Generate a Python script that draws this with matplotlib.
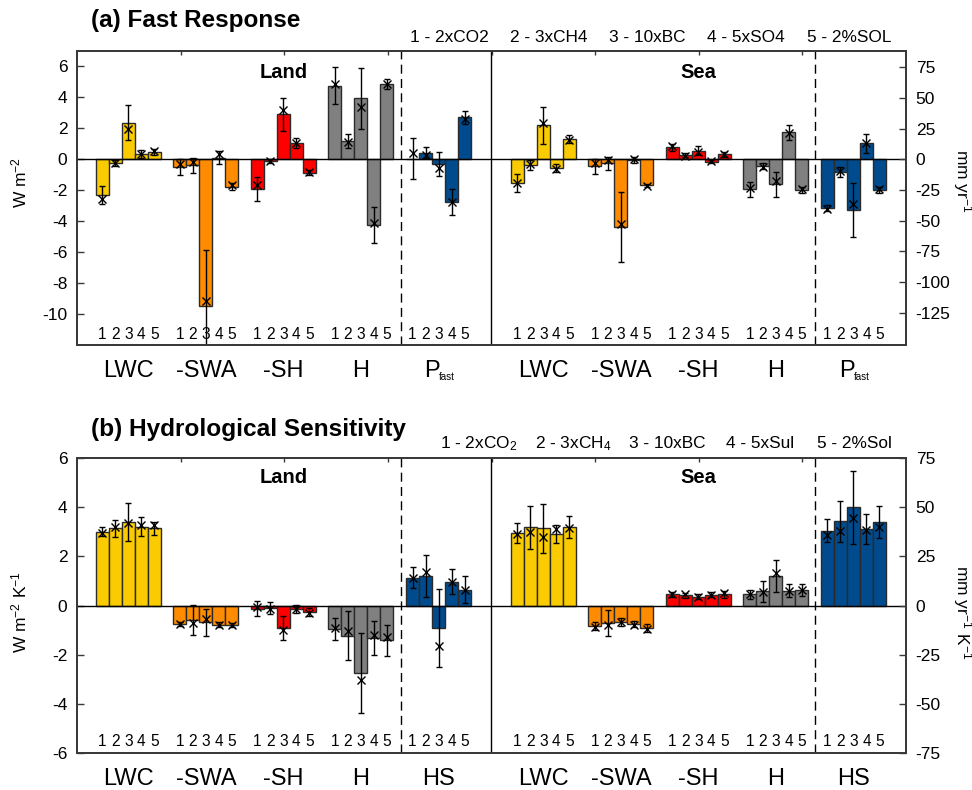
import matplotlib
matplotlib.use('Agg')
import matplotlib.pyplot as plt
import matplotlib.transforms as mtrans

plt.rcParams['font.family'] = ['Liberation Sans', 'DejaVu Sans']
plt.rcParams['mathtext.fontset'] = 'custom'
plt.rcParams['mathtext.rm'] = 'Liberation Sans'
plt.rcParams['mathtext.it'] = 'Liberation Sans:italic'
plt.rcParams['mathtext.bf'] = 'Liberation Sans:bold'
plt.rcParams['axes.unicode_minus'] = False

# ---------------- data ----------------
components_a = ['LWC', '-SWA', '-SH', 'H', 'Pfast']
components_b = ['LWC', '-SWA', '-SH', 'H', 'HS']
experiments_a = ['1 - 2xCO2', '2 - 3xCH4', '3 - 10xBC', '4 - 5xSO4', '5 - 2%SOL']
experiments_b = ['1 - 2xCO$_2$', '2 - 3xCH$_4$', '3 - 10xBC', '4 - 5xSul', '5 - 2%Sol']
group_colors = ['#FACB00', '#FF8C00', '#FF0000', '#808080', '#004B8D']

# (a) Fast response, land  (W m-2)
a_land_bar = [[-2.30, -0.26, 2.37, 0.32, 0.45],
              [-0.50, -0.38, -9.46, 0.11, -1.76],
              [-1.94, -0.11, 2.92, 1.08, -0.86],
              [4.77, 1.20, 3.94, -4.26, 4.88],
              [0.05, 0.43, -0.28, -2.75, 2.71]]
a_land_mark = [[-2.56, -0.22, 1.96, 0.36, 0.52],
               [-0.30, -0.17, -9.18, 0.32, -1.66],
               [-1.68, -0.11, 3.18, 1.08, -0.82],
               [4.84, 1.14, 3.40, -4.09, 4.84],
               [0.39, 0.30, -0.58, -2.78, 2.62]]
a_land_err = [[0.56, 0.20, 1.15, 0.25, 0.20],
              [0.50, 0.48, 3.60, 0.40, 0.24],
              [0.78, 0.16, 1.07, 0.32, 0.18],
              [1.22, 0.45, 1.95, 1.16, 0.31],
              [1.32, 0.35, 0.77, 0.83, 0.40]]
# (a) Fast response, sea
a_sea_bar = [[-1.55, -0.36, 2.19, -0.58, 1.31],
             [-0.46, -0.26, -4.39, -0.04, -1.69],
             [0.78, 0.28, 0.55, -0.15, 0.33],
             [-1.94, -0.43, -1.61, 1.74, -1.98],
             [-3.15, -0.84, -3.27, 1.03, -2.00]]
a_sea_mark = [[-1.51, -0.28, 2.32, -0.65, 1.27],
              [-0.26, -0.03, -4.17, 0.00, -1.70],
              [0.86, 0.24, 0.49, -0.13, 0.34],
              [-1.87, -0.52, -1.40, 1.72, -1.91],
              [-3.23, -0.75, -2.90, 1.08, -1.94]]
a_sea_err = [[0.59, 0.30, 1.20, 0.27, 0.24],
             [0.50, 0.41, 2.26, 0.20, 0.10],
             [0.23, 0.10, 0.30, 0.10, 0.15],
             [0.48, 0.19, 0.80, 0.48, 0.20],
             [0.20, 0.32, 1.77, 0.60, 0.20]]

# (b) Hydrological sensitivity, land (W m-2 K-1)
b_land_bar = [[3.01, 3.14, 3.41, 3.22, 3.14],
              [-0.75, -0.58, -0.69, -0.78, -0.80],
              [-0.13, -0.09, -0.90, -0.13, -0.27],
              [-0.96, -1.24, -2.76, -1.32, -1.42],
              [1.13, 1.20, -0.93, 0.97, 0.65]]
b_land_mark = [[2.97, 3.18, 3.38, 3.27, 3.27],
               [-0.75, -0.71, -0.53, -0.80, -0.80],
               [-0.05, -0.16, -0.98, -0.16, -0.30],
               [-0.91, -1.05, -3.03, -1.19, -1.30],
               [1.13, 1.36, -1.66, 0.95, 0.63]]
b_land_err = [[0.17, 0.34, 0.78, 0.37, 0.26],
              [0.08, 0.62, 0.56, 0.09, 0.08],
              [0.31, 0.24, 0.49, 0.17, 0.17],
              [0.46, 1.00, 1.64, 0.68, 0.62],
              [0.42, 0.85, 1.59, 0.51, 0.55]]
# (b) Hydrological sensitivity, sea
b_sea_bar = [[2.97, 3.18, 3.14, 2.91, 3.20],
             [-0.84, -0.70, -0.67, -0.76, -0.91],
             [0.45, 0.41, 0.35, 0.44, 0.45],
             [0.46, 0.58, 1.20, 0.61, 0.64],
             [3.05, 3.43, 4.01, 3.12, 3.41]]
b_sea_mark = [[2.91, 3.01, 2.80, 3.11, 3.14],
              [-0.87, -0.78, -0.68, -0.78, -0.95],
              [0.45, 0.45, 0.35, 0.44, 0.49],
              [0.45, 0.55, 1.34, 0.59, 0.63],
              [2.86, 3.04, 3.55, 3.07, 3.18]]
b_sea_err = [[0.41, 0.86, 0.98, 0.37, 0.46],
             [0.15, 0.53, 0.17, 0.12, 0.15],
             [0.12, 0.10, 0.10, 0.10, 0.14],
             [0.18, 0.43, 0.67, 0.27, 0.25],
             [0.48, 0.83, 1.49, 0.60, 0.64]]

# ---------------- layout ----------------
W, H = 972, 790
fig = plt.figure(figsize=(W / 100, H / 100), dpi=100)


def fx(px):
    return px / W


def fy(py):
    return 1 - py / H


XMAX = 63.77
LAND0, SEA0, GSTEP = 1.45, 33.37, 5.965
DIVIDER = 31.85
DASHES = [24.9, 56.8]
EDGE = '#2b2b2b'
SPINE = '#3a3a3a'


def draw_panel(ax, land, sea, ylim, yticks, factor, rticks, labels, dig_y, cat_y):
    ax.set_xlim(0, XMAX)
    ax.set_ylim(*ylim)
    trans = mtrans.blended_transform_factory(ax.transData, ax.transAxes)
    for start, (bars, marks, errs) in ((LAND0, land), (SEA0, sea)):
        for g in range(5):
            left = start + g * GSTEP
            xs = [left + j + 0.5 for j in range(5)]
            ax.bar(xs, bars[g], width=1.0, color=group_colors[g],
                   edgecolor=EDGE, linewidth=1.0, zorder=2)
            ax.errorbar(xs, bars[g], yerr=errs[g], fmt='none', ecolor='black',
                        elinewidth=1.0, capsize=2.2, capthick=1.0, zorder=4)
            ax.plot(xs, marks[g], 'x', color='black', ms=5.5, mew=1.0, zorder=5)
            for j in range(5):
                ax.text(xs[j], dig_y, str(j + 1), transform=trans, ha='center',
                        va='baseline', fontsize=11.2)
            lab = labels[g]
            if lab == 'Pfast':
                ax.text(left + 1.41, cat_y, 'P', transform=trans, ha='left',
                        va='baseline', fontsize=17, clip_on=False)
                ax.text(left + 2.55, cat_y - 0.011, 'fast', transform=trans,
                        ha='left', va='baseline', fontsize=7, clip_on=False)
            else:
                ax.text(left + 2.5, cat_y, lab, transform=trans, ha='center',
                        va='baseline', fontsize=17, clip_on=False)
    ax.axhline(0, color='black', lw=1.0, zorder=3)
    ax.axvline(DIVIDER, color='black', lw=1.0, zorder=3)
    for d in DASHES:
        ax.axvline(d, color='black', lw=1.0, ls=(0, (6.5, 3.8)), zorder=3)
    ax.set_yticks(yticks)
    ax.set_yticklabels([str(t) for t in yticks])
    ax.set_xticks([XMAX * k / 8 for k in range(1, 8)])
    ax.tick_params(axis='x', bottom=False, top=True, labelbottom=False,
                   direction='in', length=3, width=1, color=SPINE)
    ax.tick_params(axis='y', direction='in', length=5, width=1, pad=7,
                   labelsize=12.5, color=SPINE)
    for s in ax.spines.values():
        s.set_color(SPINE)
        s.set_linewidth(1.4)
    ax2 = ax.twinx()
    ax2.set_ylim(ylim[0] * factor, ylim[1] * factor)
    ax2.set_yticks(rticks)
    ax2.set_yticklabels([str(t) for t in rticks])
    ax2.tick_params(axis='y', direction='in', length=5, width=1, pad=7,
                    labelsize=12.5, color=SPINE)
    for s in ax2.spines.values():
        s.set_color(SPINE)
        s.set_linewidth(1.4)
    return ax2


ax_a = fig.add_axes([fx(77), fy(345), 829 / W, 294 / H])
draw_panel(ax_a, (a_land_bar, a_land_mark, a_land_err),
           (a_sea_bar, a_sea_mark, a_sea_err),
           (-12, 7), list(range(-10, 7, 2)), 12.6, list(range(-125, 76, 25)),
           components_a, 0.019, -0.108)

ax_b = fig.add_axes([fx(77), fy(752.7), 829 / W, 294.4 / H])
draw_panel(ax_b, (b_land_bar, b_land_mark, b_land_err),
           (b_sea_bar, b_sea_mark, b_sea_err),
           (-6, 6), list(range(-6, 7, 2)), 12.5, list(range(-75, 76, 25)),
           components_b, 0.023, -0.110)

# titles
fig.text(fx(90.7), fy(27.3), '(a) Fast Response', fontsize=17.5,
         fontweight='bold', va='baseline', ha='left')
fig.text(fx(90.7), fy(436), '(b) Hydrological Sensitivity', fontsize=17.6,
         fontweight='bold', va='baseline', ha='left')

# experiment legends
for txt, px in zip(experiments_a, [410, 510, 609, 706.7, 806.7]):
    fig.text(fx(px), fy(41.7), txt, fontsize=12.4, va='baseline', ha='left')
for txt, px in zip(experiments_b, [440, 535, 629.3, 726, 816.7]):
    fig.text(fx(px), fy(448.3), txt, fontsize=12.4, va='baseline', ha='left')

# Land / Sea
for py in (77.5, 483.3):
    fig.text(fx(284), fy(py), 'Land', fontsize=14.5, fontweight='bold',
             ha='center', va='baseline')
    fig.text(fx(698), fy(py), 'Sea', fontsize=14.5, fontweight='bold',
             ha='center', va='baseline')

# axis labels
fig.text(fx(19), fy(182), r'W m$^{-2}$', rotation=90, ha='center',
         va='center', fontsize=12.5)
fig.text(fx(19), fy(612), r'W m$^{-2}$ K$^{-1}$', rotation=90, ha='center',
         va='center', fontsize=12.5)
fig.text(fx(962), fy(181), r'mm yr$^{-1}$', rotation=270, ha='center',
         va='center', fontsize=12.5)
fig.text(fx(962), fy(612), r'mm yr$^{-1}$ K$^{-1}$', rotation=270,
         ha='center', va='center', fontsize=12.5)

fig.savefig('out.png', dpi=100)
